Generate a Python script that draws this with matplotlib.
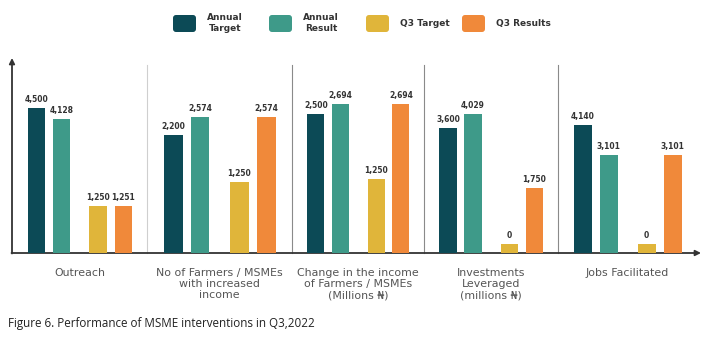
import numpy as np
import matplotlib.pyplot as plt
from matplotlib.patches import FancyBboxPatch

# indicator groups and the four series shown for each
categories = ['Outreach',
              'No of Farmers / MSMEs\nwith increased\nincome',
              'Change in the income\nof Farmers / MSMEs\n(Millions ₦)',
              'Investments\nLeveraged\n(millions ₦)',
              'Jobs Facilitated']
series = ['Annual\nTarget', 'Annual\nResult', 'Q3 Target', 'Q3 Results']
annual_target = [4500, 2200, 2500, 3600, 4140]
annual_result = [4128, 2574, 2694, 4029, 3101]
q3_target = [1250, 1250, 1250, 0, 0]
q3_results = [1251, 2574, 2694, 1750, 3101]

colors = ['#0c4a56', '#3e9a89', '#e0b53a', '#f0893a']
data = [annual_target, annual_result, q3_target, q3_results]

W, H = 711, 347
fig = plt.figure(figsize=(W / 100, H / 100), dpi=100)

# overlay in pixel units (y down) for axes arrows, legend and caption
ov = fig.add_axes([0, 0, 1, 1])
ov.set_xlim(0, W)
ov.set_ylim(H, 0)
ov.axis('off')

base, top, stub = 253, 58, 9
edges = [12, 147, 292, 424, 558, 697]
peak_px = [145, 136, 149, 139, 128]   # each indicator drawn on its own scale
offs = np.array([0.18, 0.366, 0.638, 0.825])
sep_colors = ['#cfcfcf', '#8a8a8a', '#8a8a8a', '#8a8a8a']

for i, cat in enumerate(categories):
    left, right = edges[i], edges[i + 1]
    ax = fig.add_axes([left / W, (H - base) / H, (right - left) / W, (base - top) / H])
    ax.axis('off')
    vals = [d[i] for d in data]
    u = max(vals) / (peak_px[i] - stub)
    ax.set_xlim(0, 1)
    ax.set_ylim(-stub * u, (base - top - stub) * u)
    for j, v in enumerate(vals):
        ax.bar(offs[j], v + stub * u, bottom=-stub * u, width=0.13, color=colors[j])
        ax.text(offs[j], v + 4 * u, f'{v:,}', ha='center', va='bottom',
                fontsize=5.5, fontweight='bold', color='#333333')
    if i > 0:
        ov.plot([left, left], [base, 65], color=sep_colors[i - 1], lw=0.8)
    ov.text((left + right) / 2, 268, cat, ha='center', va='top', fontsize=7.9,
            color='#555555', linespacing=1.15, family=['DejaVu Sans'])

# axes with arrow heads
arrow = dict(arrowstyle='-|>', lw=1.3, color='#333333', mutation_scale=8,
             shrinkA=0, shrinkB=0)
ov.annotate('', xy=(12, top), xytext=(12, base + 0.5), arrowprops=arrow)
ov.annotate('', xy=(701, base), xytext=(11.5, base), arrowprops=arrow)

# legend with rounded swatches
leg_x = [173, 269, 366, 462]
for x, lab, c in zip(leg_x, series, colors):
    ov.add_patch(FancyBboxPatch((x + 3, 18), 17, 11, boxstyle='round,pad=3',
                                color=c, lw=0))
    ov.text(x + 34, 23, lab, ha='left', va='center', fontsize=6.5,
            fontweight='bold', color='#333333', multialignment='center',
            linespacing=1.3)

ov.text(8, 324, 'Figure 6. Performance of MSME interventions in Q3,2022',
        ha='left', va='center', fontsize=8.4, color='#222222', family='Open Sans')

fig.savefig('out.png', dpi=100, facecolor='white')
